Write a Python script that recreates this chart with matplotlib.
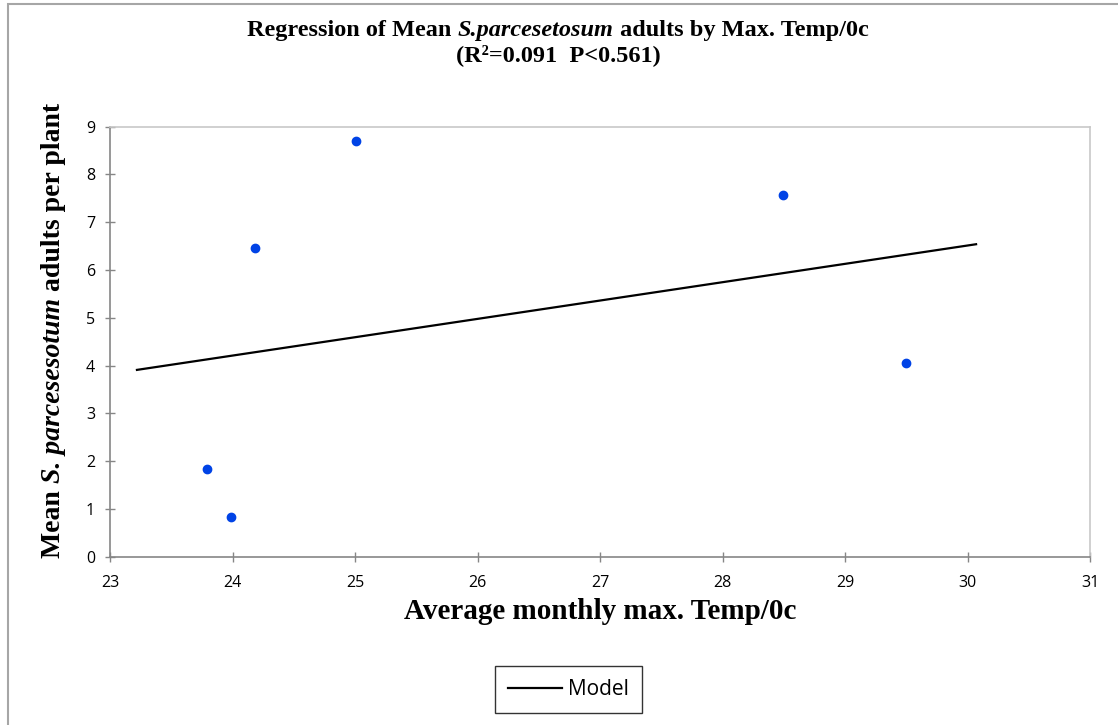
import matplotlib
matplotlib.use("Agg")
import matplotlib.pyplot as plt
from matplotlib.patches import Rectangle

# ---- data ----
temp_max = [23.79, 23.99, 24.18, 25.01, 28.49, 29.50]
mean_adults = [1.84, 0.84, 6.46, 8.71, 7.57, 4.05]
model_x = [23.22, 30.07]
model_y = [3.91, 6.54]
x_ticks = [23, 24, 25, 26, 27, 28, 29, 30, 31]
y_ticks = [0, 1, 2, 3, 4, 5, 6, 7, 8, 9]

W, H = 1118, 725
fig = plt.figure(figsize=(W / 100, H / 100), dpi=100)
fig.patch.set_facecolor("white")

# outer chart border (only left/top visible)
fig.patches.append(Rectangle((8 / W, -0.1), 2.0, (H - 4) / H + 0.1,
                             transform=fig.transFigure, fill=False,
                             edgecolor="#a6a6a6", linewidth=1.5))

ax = fig.add_axes([110 / W, (H - 556.7) / H, (1090 - 110) / W, (556.7 - 126.7) / H])
ax.set_xlim(23, 31)
ax.set_ylim(0, 9)
ax.set_xticks(x_ticks)
ax.set_yticks(y_ticks)

tick_font = {"family": "Open Sans", "size": 11.5}
ax.set_xticklabels([str(t) for t in x_ticks], fontdict=tick_font)
ax.set_yticklabels([str(t) for t in y_ticks], fontdict=tick_font)
ax.tick_params(direction="inout", length=7.5, width=1.0, color="#868686")
ax.tick_params(axis="x", pad=9.5)
ax.tick_params(axis="y", pad=7)

for s in ["left", "bottom"]:
    ax.spines[s].set_color("#868686")
    ax.spines[s].set_linewidth(1.2)
for s in ["top", "right"]:
    ax.spines[s].set_color("#c8c8c8")
    ax.spines[s].set_linewidth(1.2)

ax.plot(temp_max, mean_adults, "o", color="#0043e6", markersize=6, zorder=3)
line, = ax.plot(model_x, model_y, "-", color="black", linewidth=1.6, label="Model")

# legend
leg = fig.legend(handles=[line], labels=["Model"],
                 loc="center", bbox_to_anchor=(568.5 / W, (H - 689.5) / H),
                 frameon=True, fancybox=False, handlelength=2.6, handletextpad=0.3,
                 borderpad=0.62, prop={"family": "Open Sans", "size": 15})
leg.get_frame().set_edgecolor("black")
leg.get_frame().set_linewidth(1.0)

fig.canvas.draw()
renderer = fig.canvas.get_renderer()


def rich_text(pieces, cx, cy, size, rotation=0, va="baseline"):
    """Draw pieces [(text, style)] centred at pixel cx; cy is pixel from top."""
    arts, widths = [], []
    for txt, style in pieces:
        t = fig.text(0, 0, txt, family="Liberation Serif", weight="bold",
                     style=style, size=size, rotation=rotation,
                     ha="left", va=va, rotation_mode="anchor")
        bb = t.get_window_extent(renderer)
        widths.append(bb.height if rotation == 90 else bb.width)
        arts.append(t)
    pos = -sum(widths) / 2
    for t, w in zip(arts, widths):
        if rotation == 90:
            t.set_position((cx / W, (H - cy + pos) / H))
        else:
            t.set_position(((cx + pos) / W, (H - cy) / H))
        pos += w


rich_text([("Regression of Mean ", "normal"), ("S.parcesetosum", "italic"),
           (" adults by Max. Temp/0c", "normal")], 558, 36, 17.5)
rich_text([("(R\u00b2=0.091  P<0.561)", "normal")], 558, 61, 17.5)
rich_text([("Mean ", "normal"), ("S. parcesesotum", "italic"),
           (" adults per plant", "normal")], 60, 330, 20, rotation=90)
rich_text([("Average monthly max. Temp/0c", "normal")], 600, 619, 21)

fig.savefig("out.png", dpi=100)
